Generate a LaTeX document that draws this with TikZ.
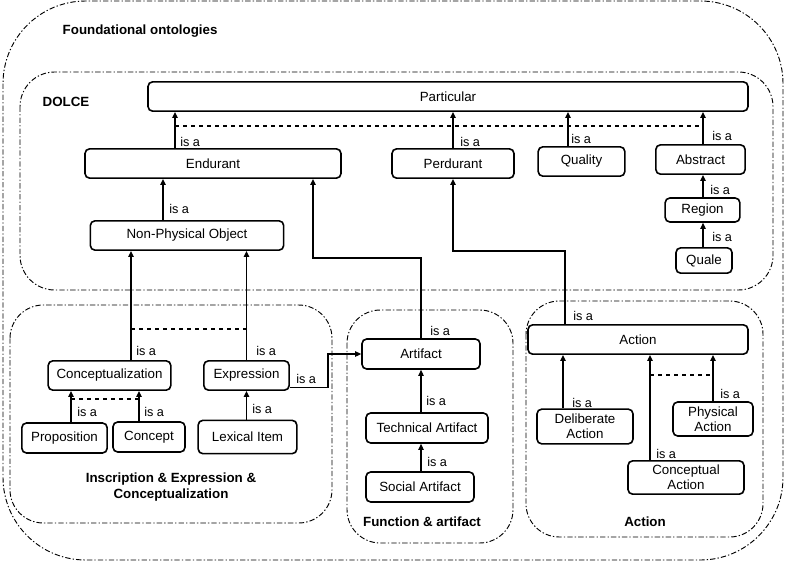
\documentclass[tikz,border=0pt]{standalone}
\usepackage{fontspec}
\setmainfont{Liberation Sans}
\usetikzlibrary{arrows.meta}

\begin{document}
\begin{tikzpicture}[
    x=0.75pt, y=-0.75pt,
    font=\fontsize{10}{11.5}\selectfont,
    concept/.style={rectangle, draw, line width=1.2pt, rounded corners=3.5pt, align=center, inner sep=1pt},
    isa/.style={-{Triangle[length=4.5pt, width=4pt]}, line width=1pt},
    disjoint/.style={dashed, line width=0.9pt},
    group/.style={draw, line width=0.7pt, dash pattern=on 4pt off 1.6pt on 1pt off 1.6pt},
    grouplabel/.style={font=\fontsize{10}{12}\selectfont\bfseries, align=center},
    lbl/.style={anchor=west, inner sep=0pt, font=\fontsize{9.5}{11}\selectfont}
]
\useasboundingbox (0,0) rectangle (787,563);

% Containers
\draw[group, rounded corners=62pt] (3,1) rectangle (783,560);
\draw[group, rounded corners=26pt] (20,72) rectangle (773,290);
\draw[group, rounded corners=25pt] (10,305) rectangle (332,523);
\draw[group, rounded corners=25pt] (347,310) rectangle (513,543);
\draw[group, rounded corners=25pt] (526,301) rectangle (763,537);

\node[grouplabel, anchor=west] (foundational) at (58,31) {Foundational ontologies};
\node[grouplabel, anchor=west] (dolce) at (38,102) {DOLCE};
\node[grouplabel] (iec) at (171,487) {Inscription \& Expression \&\\Conceptualization};
\node[grouplabel] (funcart) at (422,522) {Function \& artifact};
\node[grouplabel] (actgroup) at (645,522) {Action};

% DOLCE classes
\node[concept, minimum width=450pt, minimum height=22pt] (particular) at (448,96.5) {Particular};
\node[concept, minimum width=192pt, minimum height=22pt] (endurant) at (213,163.5) {Endurant};
\node[concept, minimum width=91.5pt, minimum height=22pt] (perdurant) at (453,163.5) {Perdurant};
\node[concept, minimum width=65pt, minimum height=22pt] (quality) at (581.5,161.5) {Quality};
\node[concept, minimum width=67pt, minimum height=22pt] (abstract) at (700.5,159.5) {Abstract};
\node[concept, minimum width=56pt, minimum height=18pt] (region) at (702.5,210) {Region};
\node[concept, minimum width=42pt, minimum height=19pt] (quale) at (704,260.5) {Quale};
\node[concept, minimum width=145pt, minimum height=22pt] (npo) at (187,235.5) {Non-Physical Object};

% Inscription, expression, conceptualization
\node[concept, minimum width=92pt, minimum height=22pt] (conceptualization) at (109.5,375.5) {Conceptualization};
\node[concept, minimum width=64pt, minimum height=22pt] (expression) at (246.5,375.5) {Expression};
\node[concept, minimum width=64pt, minimum height=22.5pt] (proposition) at (64.5,438) {Proposition};
\node[concept, minimum width=54pt, minimum height=22.5pt] (concept) at (149,437) {Concept};
\node[concept, minimum width=74pt, minimum height=25pt] (lexical) at (247.5,437) {Lexical Item};

% Function and artifact
\node[concept, minimum width=88.5pt, minimum height=22.5pt] (artifact) at (421,354) {Artifact};
\node[concept, minimum width=91.5pt, minimum height=22.5pt] (technical) at (427,428) {Technical Artifact};
\node[concept, minimum width=81pt, minimum height=22.5pt] (social) at (420,487) {Social Artifact};

% Action
\node[concept, minimum width=165pt, minimum height=22pt] (action) at (638,339.5) {Action};
\node[concept, minimum width=72pt, minimum height=26pt] (deliberate) at (585,426.5) {Deliberate\\Action};
\node[concept, minimum width=60pt, minimum height=25.5pt] (physical) at (713,419) {Physical\\Action};
\node[concept, minimum width=87pt, minimum height=25pt] (conceptual) at (686,477.5) {Conceptual\\Action};

% is-a links
\draw[isa] (endurant.north -| 175,0) -- (particular.south -| 175,0);
\draw[isa] (perdurant.north) -- (particular.south -| perdurant.north);
\draw[isa] (quality.north -| 568,0) -- (particular.south -| 568,0);
\draw[isa] (abstract.north -| 703,0) -- (particular.south -| 703,0);
\draw[isa] (region.north -| 703,0) -- (abstract.south -| 703,0);
\draw[isa] (quale.north -| 703,0) -- (region.south -| 703,0);
\draw[isa] (npo.north -| 163,0) -- (endurant.south -| 163,0);
\draw[isa] (conceptualization.north -| 131,0) -- (npo.south -| 131,0);
\draw[isa] (expression.north) -- (npo.south -| expression.north);
\draw[isa] ([yshift=-9pt]expression.east) -- ++(38,0) |- (artifact.west);
\draw[isa] (proposition.north -| 71,0) -- (conceptualization.south -| 71,0);
\draw[isa] (concept.north -| 139,0) -- (conceptualization.south -| 139,0);
\draw[isa] (lexical.north -| expression.south) -- (expression.south);
\draw[isa] (artifact.north) |- (313,258) -- (endurant.south -| 313,0);
\draw[isa] (technical.north -| artifact.south) -- (artifact.south);
\draw[isa] (social.north -| artifact.south) -- (technical.south -| artifact.south);
\draw[isa] (action.north -| 565,0) |- (453,251) -- (perdurant.south);
\draw[isa] (deliberate.north -| 563,0) -- (action.south -| 563,0);
\draw[isa] (physical.north) -- (action.south -| physical.north);
\draw[isa] (conceptual.north -| 650,0) -- (action.south -| 650,0);

% Disjointness
\draw[disjoint] (175,126) -- (703,126);
\draw[disjoint] (131,329) -- (247,329);
\draw[disjoint] (71,399) -- (139,399);
\draw[disjoint] (650,375) -- (713,375);

% Labels
\foreach \x/\y [count=\i] in {180/142, 460/142, 571/139, 712/136, 710/190, 712/237,
    169/209, 136/351, 256/351, 296/379, 77/412, 144/412, 252/409,
    430/331, 426/401, 427/462, 573/316, 572/403, 720/394, 656/454}
    \node[lbl] (isa\i) at (\x,\y) {is a};

\end{tikzpicture}
\end{document}
